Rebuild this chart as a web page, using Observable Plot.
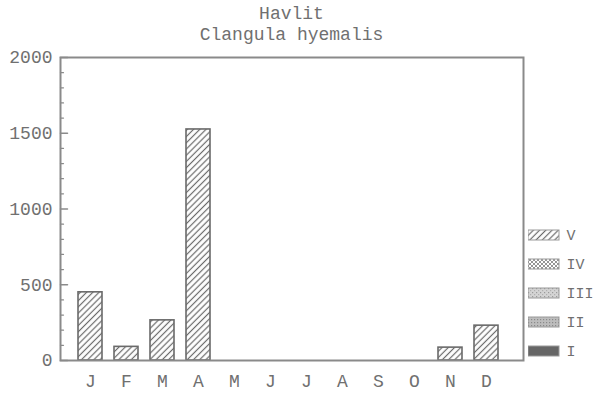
<!DOCTYPE html>
<html>
<head>
<meta charset="utf-8">
<script src="https://cdn.jsdelivr.net/npm/d3@7"></script>
<script src="https://cdn.jsdelivr.net/npm/@observablehq/plot@0.6"></script>
<style>
  html, body { margin: 0; padding: 0; background: #fff; }
  #page { position: relative; width: 596px; height: 394px; overflow: hidden; font-family: "Liberation Mono", monospace; color: #707070; }
  #title { box-sizing: border-box; width: 596px; height: 46px; padding: 4px 73px 0 60px; text-align: center; font-size: 18px; line-height: 21px; }
  #legend { position: absolute; left: 528px; top: 220px; }
</style>
</head>
<body>
<svg width="0" height="0" style="position:absolute">
  <defs>
    <pattern id="fill-v" patternUnits="userSpaceOnUse" width="4.4" height="4.4" patternTransform="rotate(45)">
      <rect width="4.4" height="4.4" fill="#fff"/>
      <line x1="2.2" y1="0" x2="2.2" y2="4.4" stroke="#6a6a6a" stroke-width="1.2"/>
    </pattern>
    <pattern id="fill-iv" patternUnits="userSpaceOnUse" width="4" height="4">
      <rect width="4" height="4" fill="#fff"/>
      <path d="M0,2 L2,0 L4,2 L2,4 Z" fill="none" stroke="#8a8a8a" stroke-width="0.9"/>
    </pattern>
    <pattern id="fill-iii" patternUnits="userSpaceOnUse" width="4" height="4">
      <rect width="4" height="4" fill="#d4d4d4"/>
      <rect x="0" y="0" width="1.2" height="1.2" fill="#9a9a9a"/>
      <rect x="2" y="2" width="1.2" height="1.2" fill="#b0b0b0"/>
    </pattern>
    <pattern id="fill-ii" patternUnits="userSpaceOnUse" width="3" height="3">
      <rect width="3" height="3" fill="#bdbdbd"/>
      <rect x="0" y="0" width="1.2" height="1.2" fill="#8a8a8a"/>
    </pattern>
  </defs>
</svg>
<div id="page">
  <div id="title">Havlit<br>Clangula hyemalis</div>
  <div id="chart"></div>
  <div id="legend"></div>
</div>
<script>
// Monthly counts of Long-tailed Duck (Clangula hyemalis), series V
const months = [0, 1, 2, 3, 4, 5, 6, 7, 8, 9, 10, 11];
const monthLabels = ["J", "F", "M", "A", "M", "J", "J", "A", "S", "O", "N", "D"];
const countsV = [450, 90, 265, 1525, 0, 0, 0, 0, 0, 0, 85, 230];
const yMajorTicks = [0, 500, 1000, 1500, 2000];
const yMinorTicks = d3.range(100, 2000, 100).filter(v => v % 500 !== 0);
const legendKeys = ["V", "IV", "III", "II", "I"];
const legendFills = ["url(#fill-v)", "url(#fill-iv)", "url(#fill-iii)", "url(#fill-ii)", "#666666"];

const rows = months.map((m, i) => ({month: m, value: countsV[i]}));

// a plain line segment for the vector mark (points up before rotation)
const tickLine = {draw(context, l) { context.moveTo(0, 0); context.lineTo(0, -l); }};

const font = {fontFamily: "Liberation Mono, monospace", fontSize: "18px", color: "#707070", background: "#fff"};

const chart = Plot.plot({
  width: 596,
  height: 348,
  marginTop: 11,
  marginBottom: 34,
  marginLeft: 60,
  marginRight: 73,
  style: font,
  x: {type: "band", domain: months, paddingInner: 0.343, paddingOuter: 0, insetLeft: 15, insetRight: 22},
  y: {domain: [0, 2000]},
  marks: [
    Plot.barY(rows, {x: "month", y: "value", fill: "url(#fill-v)", stroke: "#6a6a6a", strokeWidth: 1.6}),
    Plot.frame({stroke: "#8a8a8a", strokeWidth: 2}),
    Plot.axisY({ticks: yMajorTicks, tickSize: 0, tickPadding: 8, tickFormat: "d", label: null}),
    // inward ticks from the left edge of the frame
    Plot.vector(yMajorTicks, {y: d => d, frameAnchor: "left", rotate: 90, length: 7, anchor: "start", shape: tickLine, stroke: "#8a8a8a", strokeWidth: 1.5}),
    Plot.vector(yMinorTicks, {y: d => d, frameAnchor: "left", rotate: 90, length: 3, anchor: "start", shape: tickLine, stroke: "#8a8a8a", strokeWidth: 1.2}),
    Plot.axisX({tickSize: 0, tickPadding: 14, tickFormat: i => monthLabels[i], label: null})
  ]
});
document.getElementById("chart").appendChild(chart);

const legend = Plot.plot({
  width: 68,
  height: 145,
  marginTop: 8,
  marginBottom: 8,
  marginLeft: 0,
  marginRight: 37,
  style: {fontFamily: "Liberation Mono, monospace", fontSize: "15px", color: "#707070", background: "transparent"},
  x: {domain: [0, 1], axis: null},
  y: {type: "band", domain: legendKeys, paddingInner: 0.66, paddingOuter: 0, axis: null},
  color: {type: "ordinal", domain: legendKeys, range: legendFills},
  marks: [
    Plot.barX(legendKeys, {x1: 0, x2: 1, y: d => d, fill: d => d, stroke: "#999", strokeWidth: 1}),
    Plot.axisY({anchor: "right", tickSize: 0, tickPadding: 7, label: null})
  ]
});
document.getElementById("legend").appendChild(legend);
</script>
</body>
</html>
